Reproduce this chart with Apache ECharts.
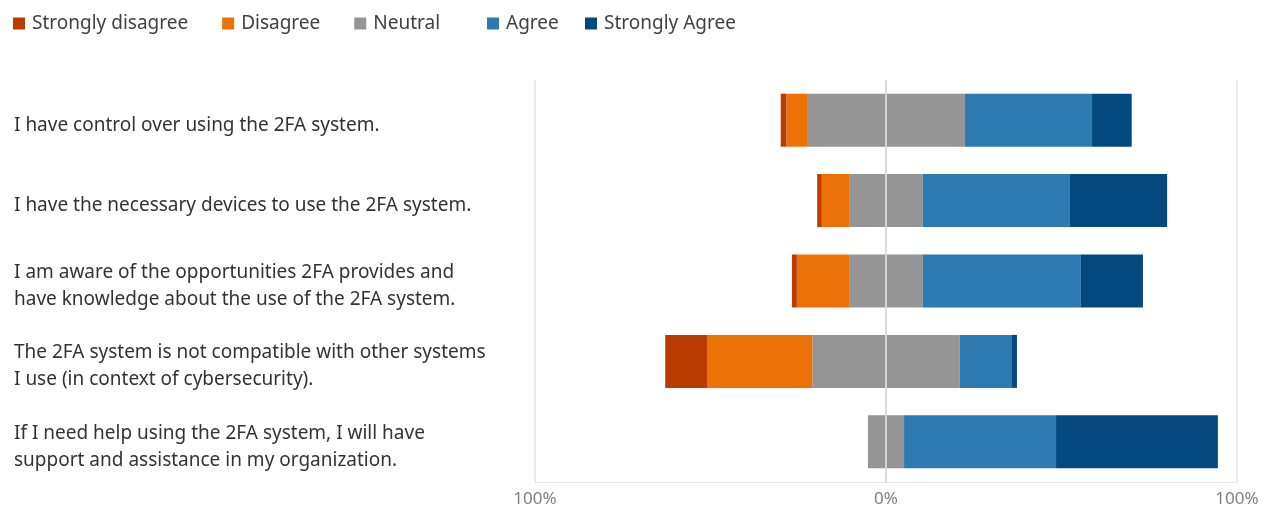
<!DOCTYPE html>
<html><head><meta charset="utf-8">
<script src="https://cdn.jsdelivr.net/npm/echarts@6/dist/echarts.min.js"></script>
<style>html,body{margin:0;padding:0;background:#fff}#c{width:1275px;height:509px}</style>
</head><body><div id="c"></div>
<script>
var categories = [
  "I have control over using the 2FA system.",
  "I have the necessary devices to use the 2FA system.",
  "I am aware of the opportunities 2FA provides and\nhave knowledge about the use of the 2FA system.",
  "The 2FA system is not compatible with other systems\nI use (in context of cybersecurity).",
  "If I need help using the 2FA system, I will have\nsupport and assistance in my organization."
];
var stronglyDisagree = [1.6, 1.3, 1.4, 11.9, 0];
var disagree = [5.9, 7.8, 14.9, 30.0, 0];
var neutral = [45.0, 21.0, 21.0, 42.0, 10.3];
var agree = [36.2, 41.9, 44.9, 14.9, 43.3];
var stronglyAgree = [11.3, 27.7, 17.8, 1.4, 46.1];
var legendNames = ["Strongly disagree", "Disagree", "Neutral", "Agree", "Strongly Agree"];

var colors = {
  "Strongly disagree": "#b93c02",
  "Disagree": "#ec7207",
  "Neutral": "#959595",
  "Agree": "#2c7ab1",
  "Strongly Agree": "#03487f"
};
function neg(a){ return a.map(function(v){ return -v; }); }
function half(a, s){ return a.map(function(v){ return s * v / 2; }); }

var barW = 53;
function bar(name, data){
  return { name: name, type: 'bar', stack: 'total', data: data, barWidth: barW,
    itemStyle: { color: colors[name] }, emphasis: { disabled: true } };
}
var series = [
  bar("Neutral", half(neutral, -1)),
  bar("Disagree", neg(disagree)),
  bar("Strongly disagree", neg(stronglyDisagree)),
  bar("Neutral", half(neutral, 1)),
  bar("Agree", agree),
  bar("Strongly Agree", stronglyAgree)
];
series[5].markLine = {
  silent: true, symbol: ['none', 'none'], label: { show: false },
  lineStyle: { color: 'rgba(218,218,218,0.9)', type: 'solid', width: 2 },
  data: [{ xAxis: 0 }], animation: false
};
series[5].z = 3;

var legendText = { fontSize: 19, color: '#404040', fontFamily: 'Noto Sans', padding: [0, 0, 0, 2] };
function legend(names, left){
  return { data: names, left: left, top: 9, icon: 'rect', itemWidth: 12, itemHeight: 12, itemGap: 34,
    textStyle: legendText };
}

var chart = echarts.init(document.getElementById('c'), null, { renderer: 'canvas' });
chart.setOption({
  animation: false,
  textStyle: { fontFamily: 'Noto Sans' },
  legend: [
    legend(legendNames.slice(0, 3), 8),
    legend(legendNames.slice(3, 4), 482),
    legend(legendNames.slice(4, 5), 580)
  ],
  grid: { left: 535, right: 38, top: 80, bottom: 27 },
  xAxis: {
    type: 'value', min: -100, max: 100, interval: 100,
    axisLine: { show: true, lineStyle: { color: '#e3e3e3' } },
    axisTick: { show: false },
    splitLine: { show: true, lineStyle: { color: '#e3e3e3', width: 1.5 } },
    axisLabel: { color: '#808080', fontSize: 17, margin: 9, formatter: function(v){ return Math.abs(v) + '%'; } }
  },
  yAxis: {
    type: 'category', data: categories, inverse: true,
    axisLine: { show: false }, axisTick: { show: false },
    axisLabel: { align: 'left', margin: 521, color: '#333333',
      formatter: function(v){ return '{s|}\n' + v.split('\n').map(function(l){ return '{t|' + l + '}'; }).join('\n'); },
      rich: {
        t: { fontSize: 19, lineHeight: 27, color: '#333333', fontFamily: 'Noto Sans' },
        s: { fontSize: 1, lineHeight: 10 }
      } }
  },
  series: series
});
</script>
</body></html>
